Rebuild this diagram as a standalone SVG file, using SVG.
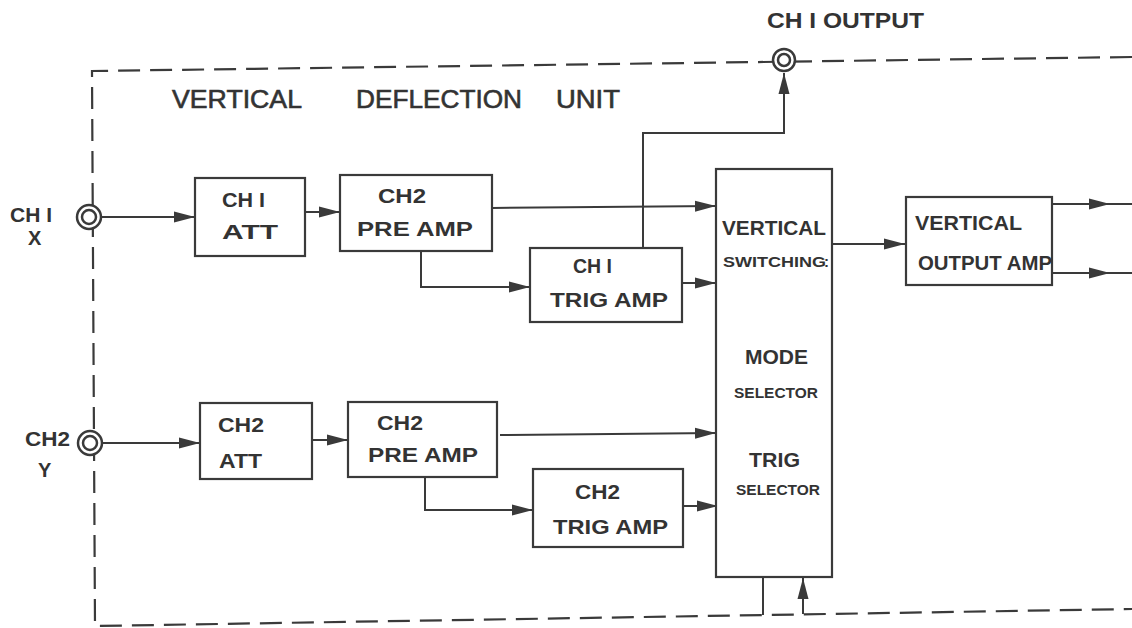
<svg xmlns="http://www.w3.org/2000/svg" width="1132" height="628" viewBox="0 0 1132 628">
<defs>
<marker id="arr" markerUnits="userSpaceOnUse" markerWidth="22" markerHeight="12" refX="21" refY="6" orient="auto">
<path d="M0,0.5 L21,6 L0,11.5 z" fill="#3a3a3a"/>
</marker>
</defs>
<style>
.bx{fill:#fff;stroke:#3a3a3a;stroke-width:2.2}
.ln{fill:none;stroke:#3a3a3a;stroke-width:2}
.dash{fill:none;stroke:#3a3a3a;stroke-width:2.2;stroke-dasharray:22 10}
.jack{fill:#fff;stroke:#3a3a3a;stroke-width:2.5}
text{font-family:"Liberation Sans","DejaVu Sans",sans-serif;fill:#333}
.t{font-size:20px;font-weight:bold}
.h{font-size:25px;stroke:#333;stroke-width:0.6}
.b{font-weight:bold}
</style>
<rect width="1132" height="628" fill="#fff"/>
<g id="border">
<path class="dash" d="M1132,57 L92,71 L95,626 L1132,609"/>
</g>
<g id="title">
<text class="h" x="172" y="108" textLength="130" lengthAdjust="spacingAndGlyphs">VERTICAL</text>
<text class="h" x="356" y="108" textLength="166" lengthAdjust="spacingAndGlyphs">DEFLECTION</text>
<text class="h" x="556" y="108" textLength="64" lengthAdjust="spacingAndGlyphs">UNIT</text>
</g>
<g id="connectors">
<line class="ln" x1="101" y1="217" x2="195" y2="217" marker-end="url(#arr)"/>
<line class="ln" x1="305" y1="212" x2="340" y2="212" marker-end="url(#arr)"/>
<line class="ln" x1="492" y1="208" x2="716" y2="206" marker-end="url(#arr)"/>
<polyline class="ln" points="421,250 421,287 530,287" marker-end="url(#arr)"/>
<line class="ln" x1="682" y1="283" x2="716" y2="283" marker-end="url(#arr)"/>
<polyline class="ln" points="643,248 643,133 784,133 784,73" marker-end="url(#arr)"/>
<line class="ln" x1="832" y1="244" x2="905" y2="244" marker-end="url(#arr)"/>
<line class="ln" x1="1052" y1="204" x2="1110" y2="204" marker-end="url(#arr)"/>
<line class="ln" x1="1108" y1="204" x2="1132" y2="204"/>
<line class="ln" x1="1052" y1="273" x2="1110" y2="273" marker-end="url(#arr)"/>
<line class="ln" x1="1108" y1="273" x2="1132" y2="273"/>
<line class="ln" x1="103" y1="443" x2="200" y2="443" marker-end="url(#arr)"/>
<line class="ln" x1="312" y1="440" x2="348" y2="440" marker-end="url(#arr)"/>
<line class="ln" x1="500" y1="435" x2="716" y2="433" marker-end="url(#arr)"/>
<polyline class="ln" points="425,477 425,510 533,510" marker-end="url(#arr)"/>
<line class="ln" x1="683" y1="506" x2="718" y2="506" marker-end="url(#arr)"/>
<line class="ln" x1="763" y1="577" x2="763" y2="615"/>
<line class="ln" x1="803" y1="614" x2="803" y2="578" marker-end="url(#arr)"/>
</g>
<g id="ch1-output-jack">
<circle class="jack" cx="784" cy="60" r="11"/>
<circle class="jack" cx="784" cy="60" r="6"/>
<text class="b" x="767" y="28" font-size="22" textLength="157" lengthAdjust="spacingAndGlyphs">CH I  OUTPUT</text>
</g>
<g id="ch1-input">
<circle class="jack" cx="89" cy="217" r="12"/>
<circle class="jack" cx="89" cy="217" r="7"/>
<text class="t" x="10" y="222" textLength="42" lengthAdjust="spacingAndGlyphs">CH I</text>
<text class="t" x="28" y="245">X</text>
</g>
<g id="ch2-input">
<circle class="jack" cx="90" cy="443" r="12"/>
<circle class="jack" cx="90" cy="443" r="7"/>
<text class="t" x="25" y="446" textLength="45" lengthAdjust="spacingAndGlyphs">CH2</text>
<text class="t" x="38" y="477">Y</text>
</g>
<g id="ch1-att">
<rect class="bx" x="195" y="178" width="110" height="78"/>
<text class="t" x="222" y="207" textLength="43" lengthAdjust="spacingAndGlyphs">CH I</text>
<text class="t" x="222" y="239" textLength="56" lengthAdjust="spacingAndGlyphs">ATT</text>
</g>
<g id="ch1-pre-amp">
<rect class="bx" x="340" y="175" width="152" height="76"/>
<text class="t" x="378" y="203" textLength="48" lengthAdjust="spacingAndGlyphs">CH2</text>
<text class="t" x="357" y="236" textLength="116" lengthAdjust="spacingAndGlyphs">PRE  AMP</text>
</g>
<g id="ch1-trig-amp">
<rect class="bx" x="530" y="248" width="152" height="74"/>
<text class="t" x="573" y="273" textLength="39" lengthAdjust="spacingAndGlyphs">CH I</text>
<text class="t" x="550" y="307" textLength="118" lengthAdjust="spacingAndGlyphs">TRIG  AMP</text>
</g>
<g id="ch2-att">
<rect class="bx" x="200" y="403" width="112" height="76"/>
<text class="t" x="218" y="432" textLength="46" lengthAdjust="spacingAndGlyphs">CH2</text>
<text class="t" x="219" y="468" textLength="43" lengthAdjust="spacingAndGlyphs">ATT</text>
</g>
<g id="ch2-pre-amp">
<rect class="bx" x="348" y="402" width="149" height="75"/>
<text class="t" x="377" y="430" textLength="46" lengthAdjust="spacingAndGlyphs">CH2</text>
<text class="t" x="368" y="462" textLength="110" lengthAdjust="spacingAndGlyphs">PRE  AMP</text>
</g>
<g id="ch2-trig-amp">
<rect class="bx" x="533" y="469" width="150" height="78"/>
<text class="t" x="575" y="499" textLength="45" lengthAdjust="spacingAndGlyphs">CH2</text>
<text class="t" x="553" y="534" textLength="115" lengthAdjust="spacingAndGlyphs">TRIG  AMP</text>
</g>
<g id="vertical-switching">
<rect class="bx" x="716" y="169" width="116" height="408"/>
<text class="b" x="722" y="235" font-size="21" textLength="104" lengthAdjust="spacingAndGlyphs">VERTICAL</text>
<text class="b" x="723" y="267" font-size="15" textLength="103" lengthAdjust="spacingAndGlyphs">SWITCHING</text>
<text class="b" x="824" y="267" font-size="15">:</text>
<text class="b" x="745" y="364" font-size="20" textLength="63" lengthAdjust="spacingAndGlyphs">MODE</text>
<text class="b" x="734" y="398" font-size="15" textLength="84" lengthAdjust="spacingAndGlyphs">SELECTOR</text>
<text class="b" x="749" y="467" font-size="20" textLength="51" lengthAdjust="spacingAndGlyphs">TRIG</text>
<text class="b" x="736" y="495" font-size="15" textLength="84" lengthAdjust="spacingAndGlyphs">SELECTOR</text>
</g>
<g id="vertical-output-amp">
<rect class="bx" x="906" y="197" width="146" height="88"/>
<text class="t" x="915" y="230" textLength="107" lengthAdjust="spacingAndGlyphs">VERTICAL</text>
<text class="t" x="918" y="270" textLength="134" lengthAdjust="spacingAndGlyphs">OUTPUT AMP</text>
</g>
</svg>
